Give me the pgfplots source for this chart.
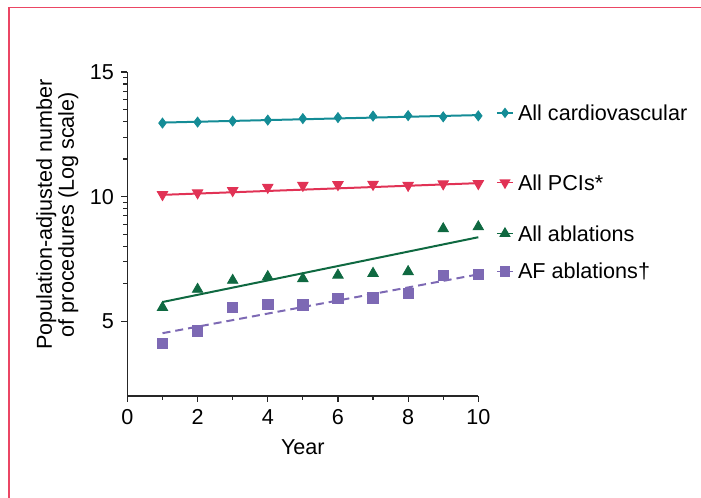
\documentclass[border=0pt]{standalone}
\usepackage{pgfplots}
\pgfplotsset{compat=1.18}
\usepackage{fontspec}
\setmainfont{Liberation Sans}

\definecolor{cardio}{RGB}{20,140,150}
\definecolor{pci}{RGB}{225,50,85}
\definecolor{abl}{RGB}{15,105,65}
\definecolor{afabl}{RGB}{125,105,180}
\definecolor{framepink}{RGB}{235,70,100}

\begin{document}
\fontsize{10.8bp}{11bp}\selectfont
\begin{tikzpicture}[x=0.5bp,y=0.5bp]
% one unit = one pixel of the reference
\useasboundingbox (-127.4,-102) rectangle (573.6,396);
\draw[framepink, line width=0.8bp] (580,388.5) -- (-118.6,388.5) -- (-118.6,-110);
\begin{axis}[
    at={(0,0)}, anchor=south west,
    scale only axis,
    width=175.45bp, height=162bp,
    xmin=0, xmax=10, ymin=2, ymax=15,
    axis lines*=left,
    axis line style={line width=0.8bp, black!85},
    clip=false,
    xtick={0,2,...,10},
    minor xtick={1,3,...,9},
    ytick={5,10,15},
    minor ytick={6.505,7.386,8.010,8.495,8.891,9.226,9.515,9.771,
                 11.505,12.386,13.010,13.495,13.891,14.226,14.515,14.771},
    tick align=outside,
    major tick length=3bp,
    minor tick length=2bp,
    tick style={black!85, line width=0.6bp},
    /pgf/number format/assume math mode=true,
    ticklabel style={font=\fontsize{10.8bp}{11bp}\selectfont},
    xlabel={Year},
    xlabel style={at={(axis description cs:0.5,-0.157)}, anchor=center},
    ylabel={Population-adjusted number\\of procedures (Log scale)},
    ylabel style={align=center, at={(axis description cs:-0.2,0.56)}, anchor=center},
]
% All cardiovascular
\addplot[cardio, line width=1bp] coordinates {(1,12.97) (10,13.27)};
\addplot[only marks, cardio, mark=diamond*, mark size=2.5bp] coordinates {
    (1,12.95) (2,12.99) (3,13.03) (4,13.07) (5,13.13)
    (6,13.17) (7,13.23) (8,13.25) (9,13.20) (10,13.24)
};
% All PCIs
\addplot[pci, line width=1bp] coordinates {(1,10.07) (10,10.54)};
\addplot[only marks, pci, mark=triangle*, mark size=3bp,
         every mark/.append style={rotate=180}] coordinates {
    (1,10.08) (2,10.15) (3,10.24) (4,10.37) (5,10.45)
    (6,10.48) (7,10.49) (8,10.45) (9,10.51) (10,10.52)
};
% All ablations
\addplot[abl, line width=1bp] coordinates {(1,5.77) (10,8.37)};
\addplot[only marks, abl, mark=triangle*, mark size=3bp] coordinates {
    (1,5.55) (2,6.28) (3,6.64) (4,6.79) (5,6.71)
    (6,6.85) (7,6.92) (8,6.99) (9,8.71) (10,8.79)
};
% AF ablations
\addplot[afabl, line width=1bp, dash pattern=on 4bp off 2.5bp] coordinates {(1,4.52) (10,6.88)};
\addplot[only marks, afabl, mark=square*, mark size=2.6bp] coordinates {
    (1,4.11) (2,4.61) (3,5.55) (4,5.68) (5,5.65)
    (6,5.92) (7,5.93) (8,6.12) (9,6.84) (10,6.88)
};
% labels at the right
\addplot[cardio, line width=0.8bp, mark=diamond*, mark size=2bp, mark indices={2}]
    coordinates {(10.53,13.36) (10.76,13.36) (10.99,13.36)};
\addplot[pci, line width=0.8bp, mark=triangle*, mark size=2.5bp, mark indices={2},
         every mark/.append style={rotate=180}]
    coordinates {(10.53,10.56) (10.76,10.56) (10.99,10.56)};
\addplot[abl, line width=0.8bp, mark=triangle*, mark size=2.5bp, mark indices={2}]
    coordinates {(10.53,8.52) (10.76,8.52) (10.99,8.52)};
\addplot[afabl, line width=0.8bp, mark=square*, mark size=2.2bp, mark indices={2}]
    coordinates {(10.53,7.0) (10.76,7.0) (10.99,7.0)};
\node[anchor=west, inner sep=0pt] at (axis cs:11.12,13.36) {All cardiovascular};
\node[anchor=west, inner sep=0pt] at (axis cs:11.12,10.56) {All PCIs*};
\node[anchor=west, inner sep=0pt] at (axis cs:11.12,8.52) {All ablations};
\node[anchor=west, inner sep=0pt] at (axis cs:11.12,7.0) {AF ablations†};
\end{axis}
\end{tikzpicture}
\end{document}
